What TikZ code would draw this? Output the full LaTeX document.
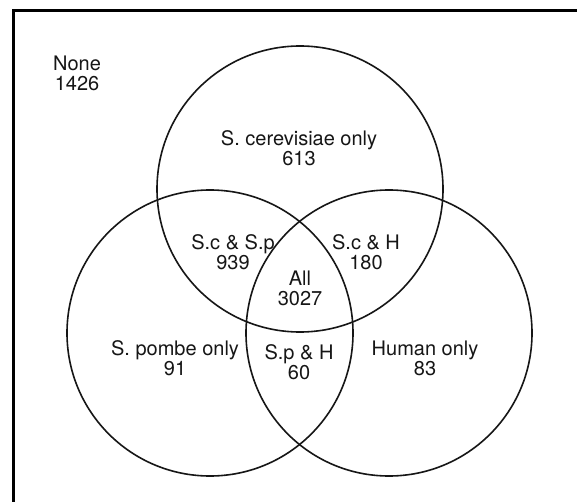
\documentclass[tikz,border=0pt]{standalone}
\usepackage{fontspec}
\setmainfont{TeX Gyre Heros}
\usetikzlibrary{positioning}
\definecolor{Ink}{HTML}{161616}
\tikzset{
  setring/.style={draw=Ink,line width=1.6pt,circle,minimum size=286pt,inner sep=0pt},
  count/.style={font=\fontsize{20}{20}\selectfont,align=center,inner sep=1pt,text=Ink},
  frameline/.style={draw=black,line width=3.5pt}
}
\begin{document}
\begin{tikzpicture}[x=1pt,y=-1pt]
  \useasboundingbox (0,0) rectangle (577,502);
  \fill[white] (0,0) rectangle (577,502);

  % frame, cut at right and bottom
  \coordinate (fbot) at (13.5,502);
  \coordinate (fcorner) at (13.5,10.5);
  \coordinate (fright) at (577,10.5);
  \draw[frameline] (fbot) -- (fcorner) -- (fright);

  % the three sets
  \node[setring] (sc) at (300,189) {};
  \node[setring] (sp) at (210,333) {};
  \node[setring] (hu) at (389,333) {};

  % counts
  \node[count] (none) at (77,73) {None\\1426};
  \node[count] (sconly) at (299,148) {S. cerevisiae only\\613};
  \node[count] (scsp) at (233,252) {S.c \& S.p\\939};
  \node[count] (sch) at (366,252) {S.c \& H\\180};
  \node[count] (all) at (300,288) {All\\3027};
  \node[count] (sponly) at (175,358) {S. pombe only\\91};
  \node[count] (sph) at (299,362) {S.p \& H\\60};
  \node[count] (honly) at (425,358) {Human only\\83};
\end{tikzpicture}
\end{document}
